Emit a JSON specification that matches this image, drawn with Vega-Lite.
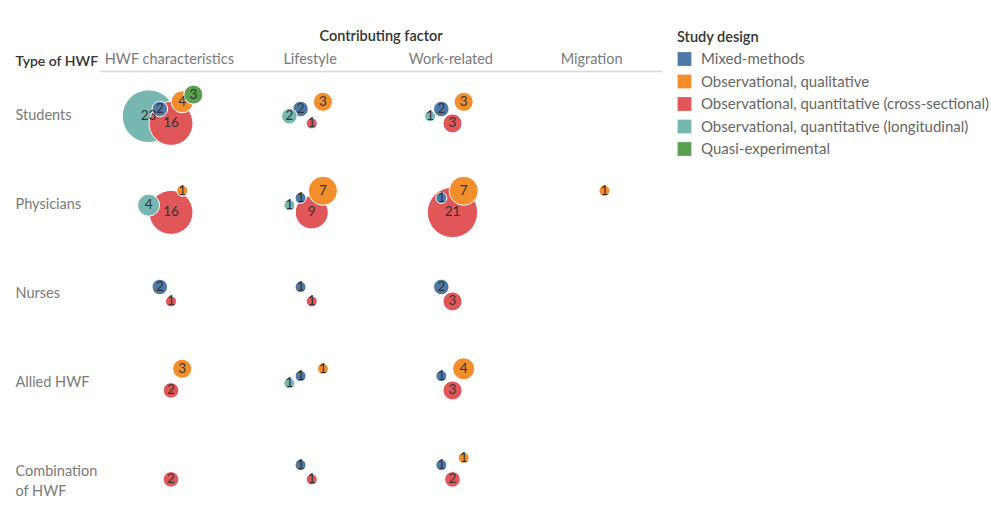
{
  "$schema": "https://vega.github.io/schema/vega-lite/v6.json",
  "autosize": {"type": "none"},
  "padding": {"left": 99, "top": 71, "right": 329, "bottom": 0},
  "width": 563,
  "height": 445,
  "background": "white",
  "config": {
    "font": "Lato",
    "view": {"stroke": null}
  },
  "data": {
    "values": [
      {"type": "Students", "factor": "HWF characteristics", "design": "Observational, quantitative (longitudinal)", "count": 23},
      {"type": "Students", "factor": "HWF characteristics", "design": "Quasi-experimental", "count": 3},
      {"type": "Students", "factor": "HWF characteristics", "design": "Mixed-methods", "count": 2},
      {"type": "Students", "factor": "HWF characteristics", "design": "Observational, qualitative", "count": 4},
      {"type": "Students", "factor": "HWF characteristics", "design": "Observational, quantitative (cross-sectional)", "count": 16},
      {"type": "Students", "factor": "Lifestyle", "design": "Mixed-methods", "count": 2},
      {"type": "Students", "factor": "Lifestyle", "design": "Observational, qualitative", "count": 3},
      {"type": "Students", "factor": "Lifestyle", "design": "Observational, quantitative (longitudinal)", "count": 2},
      {"type": "Students", "factor": "Lifestyle", "design": "Observational, quantitative (cross-sectional)", "count": 1},
      {"type": "Students", "factor": "Work-related", "design": "Mixed-methods", "count": 2},
      {"type": "Students", "factor": "Work-related", "design": "Observational, qualitative", "count": 3},
      {"type": "Students", "factor": "Work-related", "design": "Observational, quantitative (longitudinal)", "count": 1},
      {"type": "Students", "factor": "Work-related", "design": "Observational, quantitative (cross-sectional)", "count": 3},
      {"type": "Physicians", "factor": "HWF characteristics", "design": "Observational, qualitative", "count": 1},
      {"type": "Physicians", "factor": "HWF characteristics", "design": "Observational, quantitative (cross-sectional)", "count": 16},
      {"type": "Physicians", "factor": "HWF characteristics", "design": "Observational, quantitative (longitudinal)", "count": 4},
      {"type": "Physicians", "factor": "Lifestyle", "design": "Observational, quantitative (longitudinal)", "count": 1},
      {"type": "Physicians", "factor": "Lifestyle", "design": "Mixed-methods", "count": 1},
      {"type": "Physicians", "factor": "Lifestyle", "design": "Observational, qualitative", "count": 7},
      {"type": "Physicians", "factor": "Lifestyle", "design": "Observational, quantitative (cross-sectional)", "count": 9},
      {"type": "Physicians", "factor": "Work-related", "design": "Mixed-methods", "count": 1},
      {"type": "Physicians", "factor": "Work-related", "design": "Observational, qualitative", "count": 7},
      {"type": "Physicians", "factor": "Work-related", "design": "Observational, quantitative (cross-sectional)", "count": 21},
      {"type": "Physicians", "factor": "Migration", "design": "Observational, qualitative", "count": 1},
      {"type": "Nurses", "factor": "HWF characteristics", "design": "Mixed-methods", "count": 2},
      {"type": "Nurses", "factor": "HWF characteristics", "design": "Observational, quantitative (cross-sectional)", "count": 1},
      {"type": "Nurses", "factor": "Lifestyle", "design": "Mixed-methods", "count": 1},
      {"type": "Nurses", "factor": "Lifestyle", "design": "Observational, quantitative (cross-sectional)", "count": 1},
      {"type": "Nurses", "factor": "Work-related", "design": "Mixed-methods", "count": 2},
      {"type": "Nurses", "factor": "Work-related", "design": "Observational, quantitative (cross-sectional)", "count": 3},
      {"type": "Allied HWF", "factor": "HWF characteristics", "design": "Observational, qualitative", "count": 3},
      {"type": "Allied HWF", "factor": "HWF characteristics", "design": "Observational, quantitative (cross-sectional)", "count": 2},
      {"type": "Allied HWF", "factor": "Lifestyle", "design": "Mixed-methods", "count": 1},
      {"type": "Allied HWF", "factor": "Lifestyle", "design": "Observational, qualitative", "count": 1},
      {"type": "Allied HWF", "factor": "Lifestyle", "design": "Observational, quantitative (longitudinal)", "count": 1},
      {"type": "Allied HWF", "factor": "Work-related", "design": "Mixed-methods", "count": 1},
      {"type": "Allied HWF", "factor": "Work-related", "design": "Observational, qualitative", "count": 4},
      {"type": "Allied HWF", "factor": "Work-related", "design": "Observational, quantitative (cross-sectional)", "count": 3},
      {"type": "Combination of HWF", "factor": "HWF characteristics", "design": "Observational, quantitative (cross-sectional)", "count": 2},
      {"type": "Combination of HWF", "factor": "Lifestyle", "design": "Mixed-methods", "count": 1},
      {"type": "Combination of HWF", "factor": "Lifestyle", "design": "Observational, quantitative (cross-sectional)", "count": 1},
      {"type": "Combination of HWF", "factor": "Work-related", "design": "Mixed-methods", "count": 1},
      {"type": "Combination of HWF", "factor": "Work-related", "design": "Observational, qualitative", "count": 1},
      {"type": "Combination of HWF", "factor": "Work-related", "design": "Observational, quantitative (cross-sectional)", "count": 2}
    ]
  },
  "encoding": {
    "x": {
      "field": "factor", "type": "nominal",
      "sort": ["HWF characteristics", "Lifestyle", "Work-related", "Migration"],
      "scale": {"paddingInner": 0, "paddingOuter": 0},
      "axis": {
        "orient": "top", "title": "Contributing factor",
        "titleFontSize": 14.5, "titleFontWeight": 600, "titleColor": "#333",
        "titlePadding": 8,
        "labelAngle": 0, "labelFontSize": 14.5, "labelColor": "#7a7a7a", "labelPadding": 5,
        "ticks": false, "tickSize": 0,
        "domain": true, "domainColor": "#d9d9d9", "domainWidth": 1.5
      }
    },
    "y": {
      "field": "type", "type": "nominal",
      "sort": ["Students", "Physicians", "Nurses", "Allied HWF", "Combination of HWF"],
      "scale": {"paddingInner": 0, "paddingOuter": 0},
      "axis": {
        "title": "Type of HWF", "titleAngle": 0, "titleAlign": "left", "titleBaseline": "alphabetic",
        "titleX": -84, "titleY": -6,
        "titleFontSize": 14, "titleFontWeight": 600, "titleColor": "#333",
        "labelAlign": "left", "labelPadding": 84, "labelFontSize": 14.5, "labelColor": "#7a7a7a",
        "labelExpr": "datum.label == 'Combination of HWF' ? ['Combination', 'of HWF'] : datum.label",
        "labelLineHeight": 20,
        "ticks": false, "tickSize": 0, "domain": false
      }
    },
    "xOffset": {
      "field": "design", "type": "nominal",
      "scale": {
        "type": "point",
        "domain": ["Observational, quantitative (longitudinal)", "Mixed-methods", "Observational, quantitative (cross-sectional)", "Observational, qualitative", "Quasi-experimental"],
        "range": [44, 100]
      }
    },
    "yOffset": {
      "field": "design", "type": "nominal",
      "scale": {
        "type": "point",
        "domain": ["Quasi-experimental", "Observational, qualitative", "Mixed-methods", "Observational, quantitative (longitudinal)", "Observational, quantitative (cross-sectional)"],
        "range": [20, 56]
      }
    }
  },
  "layer": [
    {
      "mark": {"type": "circle", "opacity": 1, "stroke": "white", "strokeWidth": 1},
      "encoding": {
        "size": {"field": "count", "type": "quantitative", "scale": {"type": "linear", "domain": [0, 23], "range": [0, 2780]}, "legend": null},
        "color": {
          "field": "design", "type": "nominal",
          "scale": {
            "domain": ["Mixed-methods", "Observational, qualitative", "Observational, quantitative (cross-sectional)", "Observational, quantitative (longitudinal)", "Quasi-experimental"],
            "range": ["#4e79a7", "#f28e2b", "#e15759", "#76b7b2", "#59a14f"]
          },
          "legend": {
            "title": "Study design", "orient": "none", "legendX": 578, "legendY": -40,
            "titleFontSize": 14.5, "titleFontWeight": 600, "titleColor": "#333", "titlePadding": 6,
            "labelFontSize": 15, "labelColor": "#666", "labelLimit": 0,
            "symbolType": "square", "symbolSize": 190, "symbolStrokeWidth": 0, "symbolOpacity": 1,
            "rowPadding": 6.5, "labelOffset": 9
          }
        },
        "order": {"field": "count", "type": "quantitative", "sort": "descending"}
      }
    },
    {
      "mark": {"type": "text", "fontSize": 13.5, "color": "#333", "baseline": "middle", "align": "center"},
      "encoding": {
        "text": {"field": "count", "type": "quantitative"}
      }
    }
  ]
}
